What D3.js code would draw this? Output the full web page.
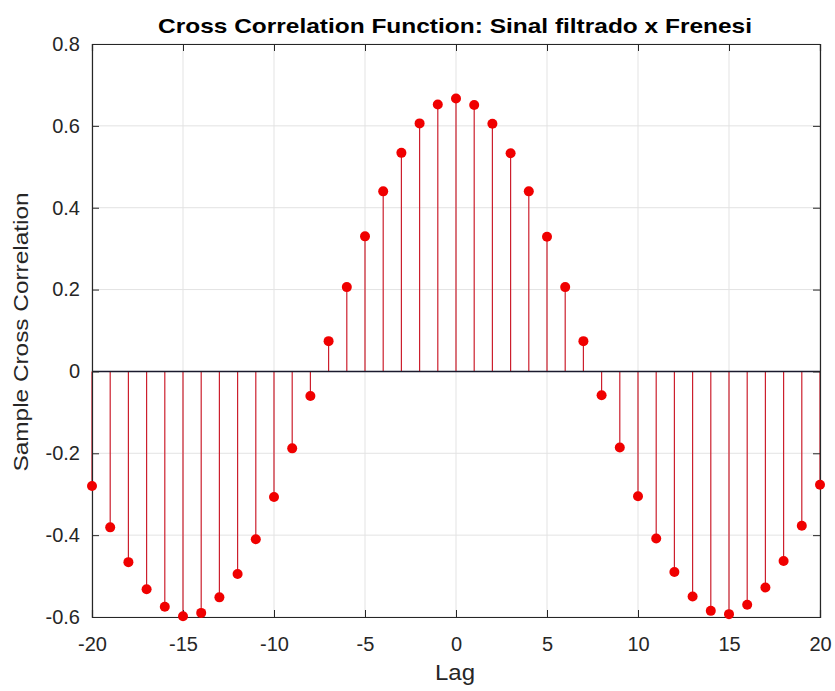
<!DOCTYPE html>
<html>
<head>
<meta charset="utf-8">
<script src="https://cdn.jsdelivr.net/npm/d3@7"></script>
<style>
  body { margin: 0; background: #fff; }
  svg text { font-family: "Liberation Sans", Arial, sans-serif; fill: #262626; }
</style>
</head>
<body>
<svg id="chart"></svg>
<script>
'use strict';

var lags = d3.range(-20, 21);
var xcf = [
  -0.280, -0.381, -0.466, -0.532, -0.575, -0.598, -0.590, -0.552, -0.495, -0.410,
  -0.307, -0.188, -0.060, 0.074, 0.206, 0.330, 0.440, 0.534, 0.606, 0.652,
  0.667,
  0.651, 0.605, 0.533, 0.440, 0.329, 0.206, 0.074, -0.058, -0.186, -0.305,
  -0.408, -0.490, -0.550, -0.585, -0.593, -0.570, -0.528, -0.463, -0.377, -0.277
];
var xTicks = [-20, -15, -10, -5, 0, 5, 10, 15, 20];
var yTicks = [-0.6, -0.4, -0.2, 0, 0.2, 0.4, 0.6, 0.8];

var width = 835, height = 691;
var margin = { left: 92, right: 15, top: 44, bottom: 74 };

var svg = d3.select('#chart')
  .attr('width', width)
  .attr('height', height);

var x = d3.scaleLinear().domain([-20, 20]).range([margin.left, width - margin.right]);
var y = d3.scaleLinear().domain([-0.6, 0.8]).range([height - margin.bottom, margin.top]);

// grid
svg.append('g').selectAll('line.gx')
  .data(xTicks).enter().append('line')
  .attr('x1', d => x(d)).attr('x2', d => x(d))
  .attr('y1', y(0.8)).attr('y2', y(-0.6))
  .style('stroke', '#e3e3e3').style('stroke-width', 1);
svg.append('g').selectAll('line.gy')
  .data(yTicks).enter().append('line')
  .attr('x1', x(-20)).attr('x2', x(20))
  .attr('y1', d => y(d)).attr('y2', d => y(d))
  .style('stroke', '#e3e3e3').style('stroke-width', 1);

// stems
var pts = lags.map((l, i) => ({ lag: l, v: xcf[i] }));
svg.append('g').selectAll('line.stem')
  .data(pts).enter().append('line')
  .attr('x1', d => x(d.lag)).attr('x2', d => x(d.lag))
  .attr('y1', y(0)).attr('y2', d => y(d.v))
  .style('stroke', '#cc1f2d').style('stroke-width', 1.2);

// baseline
svg.append('line')
  .attr('x1', x(-20)).attr('x2', x(20))
  .attr('y1', y(0)).attr('y2', y(0))
  .style('stroke', '#1a1a2e').style('stroke-width', 1.4);

// axes with inward ticks
var axB = d3.axisBottom(x).tickValues(xTicks).tickSize(-7).tickPadding(20).tickFormat(d => String(d));
var axT = d3.axisTop(x).tickValues(xTicks).tickSize(-7).tickFormat('');
var axL = d3.axisLeft(y).tickValues(yTicks).tickSize(-7).tickPadding(12).tickFormat(d => d === 0 ? '0' : d.toFixed(1));
var axR = d3.axisRight(y).tickValues(yTicks).tickSize(-7).tickFormat('');

function style(g) {
  g.select('.domain').style('stroke', '#262626').style('stroke-width', 1.2);
  g.selectAll('.tick line').style('stroke', '#262626');
  g.selectAll('.tick text').style('font-size', '20px').style('font-family', '"Liberation Sans", Arial, sans-serif').attr('fill', '#262626');
}

svg.append('g').attr('transform', `translate(0,${y(-0.6)})`).call(axB).call(style);
svg.append('g').attr('transform', `translate(0,${y(0.8)})`).call(axT).call(style);
svg.append('g').attr('transform', `translate(${x(-20)},0)`).call(axL).call(style);
svg.append('g').attr('transform', `translate(${x(20)},0)`).call(axR).call(style);

// markers
svg.append('g').selectAll('circle')
  .data(pts).enter().append('circle')
  .attr('cx', d => x(d.lag)).attr('cy', d => y(d.v))
  .attr('r', 5)
  .style('fill', '#f00000');

// labels
svg.append('text')
  .attr('x', 455).attr('y', 33)
  .attr('text-anchor', 'middle')
  .attr('textLength', 594).attr('lengthAdjust', 'spacingAndGlyphs')
  .style('font-size', '21px').style('font-weight', 'bold')
  .style('fill', '#000')
  .text('Cross Correlation Function: Sinal filtrado x Frenesi');

svg.append('text')
  .attr('x', 455).attr('y', 680)
  .attr('text-anchor', 'middle')
  .attr('textLength', 40).attr('lengthAdjust', 'spacingAndGlyphs')
  .style('font-size', '22px')
  .text('Lag');

svg.append('text')
  .attr('transform', `translate(28,332) rotate(-90)`)
  .attr('text-anchor', 'middle')
  .attr('textLength', 279).attr('lengthAdjust', 'spacingAndGlyphs')
  .style('font-size', '21px')
  .text('Sample Cross Correlation');
</script>
</body>
</html>
